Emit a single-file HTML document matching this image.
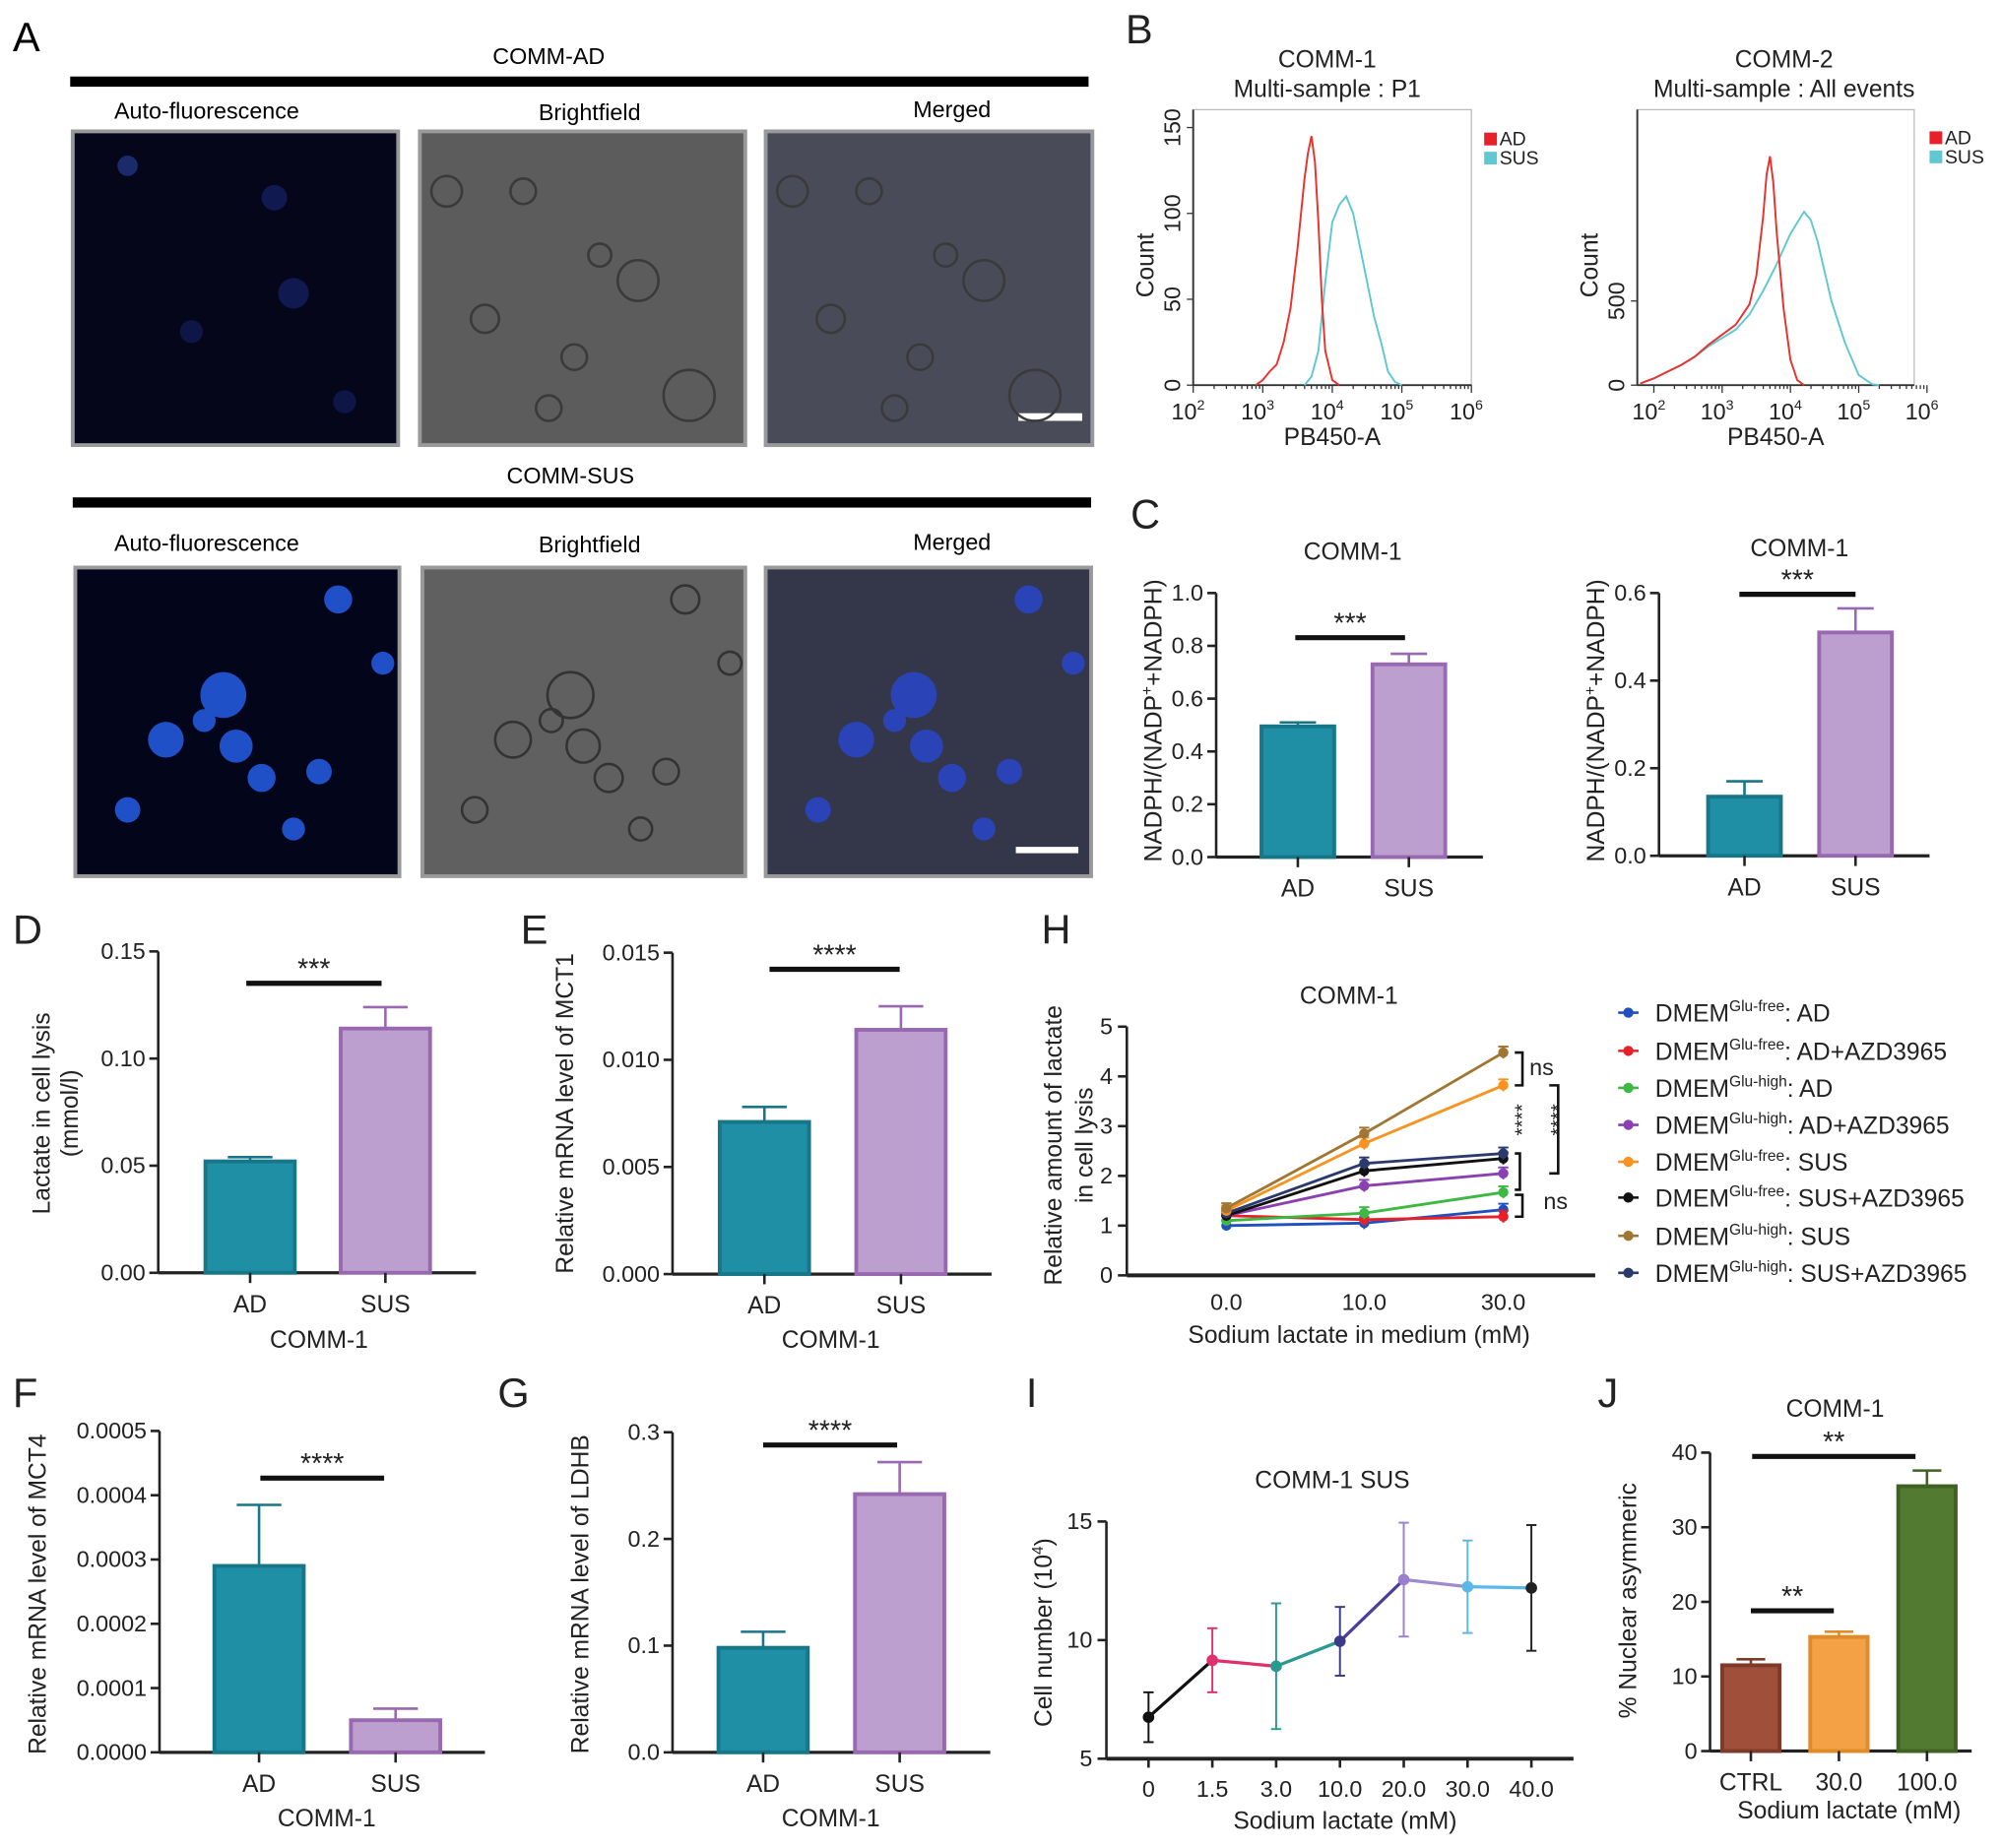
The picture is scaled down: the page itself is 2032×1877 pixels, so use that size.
<!DOCTYPE html>
<html><head><meta charset="utf-8"><style>
html,body{margin:0;padding:0;background:#fff;}
svg{display:block;font-family:"Liberation Sans",Arial,sans-serif;}
</style></head><body>
<svg id="fig" xmlns="http://www.w3.org/2000/svg" width="2032" height="1877" viewBox="0 0 1568 1449" preserveAspectRatio="none">
<g id="panelA">
<text x="10" y="40" font-size="32">A</text>
<text x="430" y="50" font-size="18" text-anchor="middle">COMM-AD</text>
<rect x="55" y="60" width="798" height="8" fill="#000"/>
<text x="162" y="93" font-size="18" text-anchor="middle">Auto-fluorescence</text>
<text x="462" y="94" font-size="18" text-anchor="middle">Brightfield</text>
<text x="746" y="92" font-size="18" text-anchor="middle">Merged</text>
<rect x="57" y="103" width="255" height="246" fill="#05061a" stroke="#999" stroke-width="3"/>
<rect x="329" y="103" width="255" height="246" fill="#5c5c5c" stroke="#999" stroke-width="3"/>
<rect x="600" y="103" width="256" height="246" fill="#4a4b58" stroke="#999" stroke-width="3"/>
<rect x="798" y="324" width="50" height="6" fill="#fff"/>
<text x="447" y="379" font-size="18" text-anchor="middle">COMM-SUS</text>
<rect x="57" y="390" width="798" height="8" fill="#000"/>
<text x="162" y="432" font-size="18" text-anchor="middle">Auto-fluorescence</text>
<text x="462" y="433" font-size="18" text-anchor="middle">Brightfield</text>
<text x="746" y="431" font-size="18" text-anchor="middle">Merged</text>
<rect x="59" y="445" width="254" height="242" fill="#03051a" stroke="#999" stroke-width="3"/>
<rect x="331" y="445" width="253" height="242" fill="#606060" stroke="#999" stroke-width="3"/>
<rect x="600" y="445" width="255" height="242" fill="#34364a" stroke="#999" stroke-width="3"/>
<rect x="796" y="664" width="49" height="5" fill="#fff"/>
<g id="cells"></g>
</g>
<g id="charts"></g>
</svg>
<script>
// ---------- data ----------
const b1AdLogs=[2.9,3.0,3.1,3.2,3.3,3.4,3.5,3.6,3.65,3.7,3.75,3.8,3.85,3.9,4.0,4.1];
const b1AdCounts=[0,3,8,12,25,45,80,120,135,145,130,95,50,20,3,0];
const b1SusLogs=[3.6,3.7,3.8,3.9,4.0,4.1,4.2,4.3,4.4,4.5,4.6,4.7,4.8,4.9,5.0];
const b1SusCounts=[0,5,20,60,95,105,110,100,80,60,40,25,8,2,0];
const b2AdLogs=[1.8,2.0,2.2,2.4,2.6,2.8,3.0,3.2,3.4,3.5,3.6,3.65,3.7,3.75,3.8,3.9,4.0,4.1,4.2];
const b2AdCounts=[10,40,80,120,170,240,300,360,480,650,1000,1250,1360,1200,900,450,150,30,0];
const b2SusLogs=[1.8,2.0,2.2,2.4,2.6,2.8,3.0,3.2,3.4,3.6,3.8,4.0,4.2,4.3,4.4,4.6,4.8,5.0,5.2,5.3];
const b2SusCounts=[10,40,80,120,170,230,280,330,420,560,720,900,1030,980,850,500,250,60,5,0];

const c1Categories=["AD","SUS"]; const c1Values=[0.495,0.73]; const c1Errors=[0.015,0.04]; const c1Ticks=[0,0.2,0.4,0.6,0.8,1.0]; const c1TickLabels=["0.0","0.2","0.4","0.6","0.8","1.0"];
const c2Categories=["AD","SUS"]; const c2Values=[0.135,0.51]; const c2Errors=[0.035,0.055]; const c2Ticks=[0,0.2,0.4,0.6]; const c2TickLabels=["0.0","0.2","0.4","0.6"];
const dCategories=["AD","SUS"]; const dValues=[0.052,0.114]; const dErrors=[0.002,0.01]; const dTicks=[0,0.05,0.1,0.15]; const dTickLabels=["0.00","0.05","0.10","0.15"];
const eCategories=["AD","SUS"]; const eValues=[0.0071,0.0114]; const eErrors=[0.0007,0.0011]; const eTicks=[0,0.005,0.01,0.015]; const eTickLabels=["0.000","0.005","0.010","0.015"];
const fCategories=["AD","SUS"]; const fValues=[0.00029,0.00005]; const fErrors=[0.000095,0.000018]; const fTicks=[0,0.0001,0.0002,0.0003,0.0004,0.0005]; const fTickLabels=["0.0000","0.0001","0.0002","0.0003","0.0004","0.0005"];
const gCategories=["AD","SUS"]; const gValues=[0.098,0.242]; const gErrors=[0.015,0.03]; const gTicks=[0,0.1,0.2,0.3]; const gTickLabels=["0.0","0.1","0.2","0.3"];
const jCategories=["CTRL","30.0","100.0"]; const jValues=[11.5,15.3,35.5]; const jErrors=[0.8,0.7,2.1]; const jTicks=[0,10,20,30,40]; const jTickLabels=["0","10","20","30","40"];

const hX=[0,10,30]; const hXLabels=["0.0","10.0","30.0"];
const hSeriesNames=["Glu-free|AD","Glu-free|AD+AZD3965","Glu-high|AD","Glu-high|AD+AZD3965","Glu-free|SUS","Glu-free|SUS+AZD3965","Glu-high|SUS","Glu-high|SUS+AZD3965"];
const hS1=[1.0,1.05,1.32]; const hS2=[1.2,1.12,1.18]; const hS3=[1.1,1.25,1.67]; const hS4=[1.2,1.8,2.05];
const hS5=[1.3,2.65,3.82]; const hS6=[1.2,2.1,2.35]; const hS7=[1.35,2.85,4.48]; const hS8=[1.25,2.25,2.45];
const hErr=[0.1,0.12,0.12];
const hTicks=[0,1,2,3,4,5];

const iCategories=["0","1.5","3.0","10.0","20.0","30.0","40.0"];
const iValues=[6.75,9.15,8.9,9.95,12.55,12.25,12.2];
const iErrors=[1.05,1.35,2.65,1.45,2.4,1.95,2.65];
const iTicks=[5,10,15];

// ---------- helpers ----------
const NS="http://www.w3.org/2000/svg";
const root=document.getElementById('charts');
function el(tag,attrs,parent,txt){const e=document.createElementNS(NS,tag);for(const k in attrs)e.setAttribute(k,attrs[k]);if(txt!==undefined)e.textContent=txt;(parent||root).appendChild(e);return e;}
function lin(d0,d1,r0,r1){return v=>r0+(v-d0)/(d1-d0)*(r1-r0);}
function txt(x,y,s,size,anchor,parent,rot,name){const t=el('text',{x:x,y:y,'font-size':size,'text-anchor':anchor||'middle',fill:'#222'},parent,s);if(rot)t.setAttribute('transform','rotate(-90 '+x+' '+y+')');


return t;}

// cells decoration
const cg=document.getElementById('cells');
[[100,130,8,'#1a2a6a'],[215,155,10,'#101a50'],[230,230,12,'#101a50'],[150,260,9,'#0e1648'],[270,315,9,'#0e1648']].forEach(c=>{const e=el('circle',{cx:c[0],cy:c[1],r:c[2],fill:c[3]},cg);});
[[350,150,12],[410,150,10],[500,220,16],[540,310,20],[450,280,10],[380,250,11],[430,320,10],[470,200,9]].forEach(c=>{[0,271].forEach(dx=>{const e=el('circle',{cx:c[0]+dx,cy:c[1],r:c[2],fill:'none',stroke:'#3a3a3a','stroke-width':2},cg);});});
[[175,545,18],[130,580,14],[185,585,13],[160,565,9],[205,610,11],[100,635,10],[265,470,11],[300,520,9],[250,605,10],[230,650,9]].forEach(c=>{[[0,'#2050c8'],[541,'#2a44b8']].forEach(o=>{const e=el('circle',{cx:c[0]+o[0],cy:c[1],r:c[2],fill:o[1]},cg);});
const e=el('circle',{cx:c[0]+272,cy:c[1],r:c[2],fill:'none',stroke:'#333','stroke-width':2},cg);});

// ---------- panel B ----------
function histPanel(o){
 const g=el('g',{});
 
 
 const xs=lin(2,6,o.x10_2,o.x10_6), ys=lin(0,o.yTickVal,o.y0,o.yTickPx);
 el('rect',{x:o.ax0,y:o.top,width:o.ax1-o.ax0,height:o.y0-o.top,fill:'none',stroke:'#bbb','stroke-width':1},g);
 el('line',{x1:o.ax0,y1:o.y0,x2:o.ax1,y2:o.y0,stroke:'#333','stroke-width':1.5},g);
 el('line',{x1:o.ax0,y1:o.top,x2:o.ax0,y2:o.y0,stroke:'#333','stroke-width':1.5},g);
 for(let d=2;d<=6;d++){el('line',{x1:xs(d),y1:o.y0,x2:xs(d),y2:o.y0+6,stroke:'#333'},g);
  const t=txt(xs(d)-4,o.y0+27,'10',18,'middle',g,false,'x-tick-label');el('tspan',{dy:-8,'font-size':11},t,String(d));
  if(d<6)for(let m=2;m<10;m++){const xx=xs(d+Math.log10(m));if(xx>=o.ax0)el('line',{x1:xx,y1:o.y0,x2:xx,y2:o.y0+3,stroke:'#333'},g);}}
 o.yTicks.forEach(v=>{const y=ys(v);el('line',{x1:o.ax0-5,y1:y,x2:o.ax0,y2:y,stroke:'#333'},g);txt(o.ax0-10,y,String(v),18,'middle',g,true,'y-tick-label');});
 txt(o.ax0-31,208,'Count',19,'middle',g,true,'y-axis-title');
 txt((o.ax0+o.ax1)/2,349,'PB450-A',19,'middle',g,false,'x-axis-title');
 txt(o.tx,53,o.t1,19,'middle',g,false,'chart-title');
 txt(o.tx,76,o.t2,19,'middle',g,false,'chart-subtitle');
 [[o.susL,o.susC,'#5fc8d0'],[o.adL,o.adC,'#e8322e']].forEach(s=>{
  const p=el('polyline',{points:s[0].map((l,i)=>xs(l).toFixed(1)+','+ys(s[1][i]).toFixed(1)).join(' '),fill:'none',stroke:s[2],'stroke-width':1.5},g);
  
  });
 [['AD','#e8202a',0],['SUS','#5fc8d0',15]].forEach(l=>{el('rect',{x:o.legX,y:o.legY+l[2],width:10,height:10,fill:l[1]},g);txt(o.legX+12,o.legY+l[2]+10,l[0],15,'start',g,false,'legend-entry');});
}
histPanel({name:'panel-b-comm1-histogram',ax0:935,ax1:1153,top:86,y0:302,x10_2:935,x10_6:1153,yTickVal:150,yTickPx:100,yTicks:[0,50,100,150],tx:1040,t1:'COMM-1',t2:'Multi-sample : P1',adL:b1AdLogs,adC:b1AdCounts,susL:b1SusLogs,susC:b1SusCounts,legX:1163,legY:104});
histPanel({name:'panel-b-comm2-histogram',ax0:1283,ax1:1500,top:86,y0:302,x10_2:1296,x10_6:1510,yTickVal:500,yTickPx:236,yTicks:[0,500],tx:1398,t1:'COMM-2',t2:'Multi-sample : All events',adL:b2AdLogs,adC:b2AdCounts,susL:b2SusLogs,susC:b2SusCounts,legX:1512,legY:103});
txt(882,34,'B',32,'start',root,false,'panel-label-b');

// ---------- bar charts ----------
const TEAL=['#1f8fa6','#177688'], PURP=['#bd9fcf','#9868b0'];
function barPanel(o){
 const g=el('g',{});
 
 
 const ys=lin(0,o.vmax,o.y0,o.yTop);
 el('line',{x1:o.ax,y1:ys(o.ticks[o.ticks.length-1]),x2:o.ax,y2:o.y0,stroke:'#222','stroke-width':2},g);
 el('line',{x1:o.ax,y1:o.y0,x2:o.axEnd,y2:o.y0,stroke:'#222','stroke-width':2.5},g);
 o.ticks.forEach((v,i)=>{const y=ys(v);el('line',{x1:o.ax-7,y1:y,x2:o.ax,y2:y,stroke:'#222','stroke-width':2},g);txt(o.ax-10,y+6,o.tickLabels[i],18,'end',g,false,'y-tick-label');});
 o.values.forEach((v,i)=>{const cx=o.c0+i*o.step, c=o.colors[i];
  const r=el('rect',{x:cx-o.bw/2,y:ys(v),width:o.bw,height:o.y0-ys(v),fill:c[0],stroke:c[1],'stroke-width':3},g);
  
  
  const ye=ys(v+o.errors[i]);
  el('line',{x1:cx,y1:ys(v),x2:cx,y2:ye,stroke:c[1],'stroke-width':2},g);
  el('line',{x1:cx-o.bw*0.25,y1:ye,x2:cx+o.bw*0.25,y2:ye,stroke:c[1],'stroke-width':2},g);
  el('line',{x1:cx,y1:o.y0,x2:cx,y2:o.y0+8,stroke:'#222','stroke-width':2},g);
  txt(cx,o.y0+31,o.cats[i],19,'middle',g,false,'x-tick-label');});
 (o.sig||[]).forEach(s=>{const ln=el('line',{x1:s[0],y1:s[2],x2:s[1],y2:s[2],stroke:'#111','stroke-width':4},g);txt((s[0]+s[1])/2,s[2]-4,s[3],22,'middle',g,false,'significance-stars');});
 if(o.title)txt(o.title[0],o.title[1],o.title[2],19,'middle',g,false,'chart-title');
 if(o.xTitle)txt(o.xTitle[0],o.xTitle[1],o.xTitle[2],19,'middle',g,false,'x-axis-title');
 o.yTitle.forEach(t=>{const tt=txt(t[0],o.yMid,'',19,'middle',g,true,'y-axis-title');tt.innerHTML=t[1];});
 txt(o.letter[0],o.letter[1],o.letter[2],32,'start',root,false,'panel-label-'+o.letter[2].toLowerCase());
}
barPanel({name:'panel-c-left',ax:953,axEnd:1162,y0:672,yTop:465,vmax:1.0,ticks:c1Ticks,tickLabels:c1TickLabels,values:c1Values,errors:c1Errors,cats:c1Categories,c0:1017,step:87,bw:57,colors:[TEAL,PURP],sig:[[1015,1101,500,'***']],title:[1060,439,'COMM-1'],yTitle:[[910,'NADPH/(NADP<tspan dy="-7" font-size="12">+</tspan><tspan dy="7">+NADPH)</tspan>']],yMid:565,letter:[886,414,'C']});
barPanel({name:'panel-c-right',ax:1300,axEnd:1512,y0:671,yTop:465,vmax:0.6,ticks:c2Ticks,tickLabels:c2TickLabels,values:c2Values,errors:c2Errors,cats:c2Categories,c0:1367,step:87,bw:57,colors:[TEAL,PURP],sig:[[1363,1454,466,'***']],title:[1410,436,'COMM-1'],yTitle:[[1257,'NADPH/(NADP<tspan dy="-7" font-size="12">+</tspan><tspan dy="7">+NADPH)</tspan>']],yMid:565,letter:[-100,-100,'X']});
barPanel({name:'panel-d',ax:124,axEnd:373,y0:998,yTop:746,vmax:0.15,ticks:dTicks,tickLabels:dTickLabels,values:dValues,errors:dErrors,cats:dCategories,c0:196,step:106,bw:70,colors:[TEAL,PURP],sig:[[193,299,771,'***']],xTitle:[250,1057,'COMM-1'],yTitle:[[39,'Lactate in cell lysis'],[61,'(mmol/l)']],yMid:873,letter:[10,740,'D']});
barPanel({name:'panel-e',ax:527,axEnd:777,y0:999,yTop:747,vmax:0.015,ticks:eTicks,tickLabels:eTickLabels,values:eValues,errors:eErrors,cats:eCategories,c0:599,step:107,bw:70,colors:[TEAL,PURP],sig:[[603,705,760,'****']],xTitle:[651,1057,'COMM-1'],yTitle:[[449,'Relative mRNA level of MCT1']],yMid:873,letter:[408,740,'E']});
barPanel({name:'panel-f',ax:125,axEnd:380,y0:1374,yTop:1122,vmax:0.0005,ticks:fTicks,tickLabels:fTickLabels,values:fValues,errors:fErrors,cats:fCategories,c0:203,step:107,bw:70,colors:[TEAL,PURP],sig:[[204,301,1159,'****']],xTitle:[256,1432,'COMM-1'],yTitle:[[36,'Relative mRNA level of MCT4']],yMid:1250,letter:[10,1103,'F']});
barPanel({name:'panel-g',ax:527,axEnd:776,y0:1374,yTop:1123,vmax:0.3,ticks:gTicks,tickLabels:gTickLabels,values:gValues,errors:gErrors,cats:gCategories,c0:598,step:107,bw:70,colors:[TEAL,PURP],sig:[[598,703,1133,'****']],xTitle:[651,1432,'COMM-1'],yTitle:[[461,'Relative mRNA level of LDHB']],yMid:1250,letter:[390,1103,'G']});
barPanel({name:'panel-j',ax:1340,axEnd:1545,y0:1373,yTop:1139,vmax:40,ticks:jTicks,tickLabels:jTickLabels,values:jValues,errors:jErrors,cats:jCategories,c0:1372,step:69,bw:45,colors:[['#a0503a','#7e3a28'],['#f4a044','#e08a28'],['#527a30','#3f6222']],sig:[[1373,1501,1142,'**'],[1372,1437,1263,'**']],title:[1438,1111,'COMM-1'],xTitle:[1449,1426,'Sodium lactate (mM)'],yTitle:[[1282,'% Nuclear asymmeric']],yMid:1255,letter:[1252,1103,'J']});

// ---------- panel H ----------
(function(){
 const g=el('g',{});
 
 
 const xMap=v=>v===0?961:(v===10?1069:1178);
 const ys=lin(0,5,1000,805);
 el('line',{x1:883,y1:805,x2:883,y2:1000,stroke:'#222','stroke-width':2},g);
 el('line',{x1:883,y1:1000,x2:1250,y2:1000,stroke:'#222','stroke-width':3},g);
 hTicks.forEach(v=>{el('line',{x1:876,y1:ys(v),x2:883,y2:ys(v),stroke:'#222','stroke-width':2},g);txt(872,ys(v)+6,String(v),18,'end',g,false,'y-tick-label');});
 hX.forEach((v,i)=>txt(xMap(v),1027,hXLabels[i],18,'middle',g,false,'x-tick-label'));
 txt(1057,787,'COMM-1',19,'middle',g,false,'chart-title');
 txt(1065,1053,'Sodium lactate in medium (mM)',19,'middle',g,false,'x-axis-title');
 txt(832,898,'Relative amount of lactate',19,'middle',g,true,'y-axis-title');
 txt(856,898,'in cell lysis',19,'middle',g,true,'y-axis-title');
 const series=[hS1,hS2,hS3,hS4,hS5,hS6,hS7,hS8];
 const colors=['#1f50c0','#e8202a','#3cb843','#8a40b0','#f7931e','#111111','#a07632','#2a3a6e'];
 const drawOrder=[0,1,2,3,5,7,4,6];
 drawOrder.forEach(k=>{const s=series[k],c=colors[k];
  const p=el('polyline',{points:s.map((v,i)=>xMap(hX[i])+','+ys(v)).join(' '),fill:'none',stroke:c,'stroke-width':2.2},g);
  
  
  s.forEach((v,i)=>{const x=xMap(hX[i]);el('line',{x1:x,y1:ys(v-hErr[i]),x2:x,y2:ys(v+hErr[i]),stroke:c,'stroke-width':1.5},g);el('line',{x1:x-4,y1:ys(v+hErr[i]),x2:x+4,y2:ys(v+hErr[i]),stroke:c,'stroke-width':1.5},g);
   const m=el('circle',{cx:x,cy:ys(v),r:4,fill:c},g);});});
 const br=(x,y1,y2,w)=>el('path',{d:`M${x} ${ys(y1)} h${w} V${ys(y2)} h${-w}`,fill:'none',stroke:'#111','stroke-width':2},g);
 br(1187,hS7[2],hS5[2],6); txt(1208,843,'ns',18,'middle',g,false,'significance-label');
 br(1214,hS5[2],hS4[2],7); txt(1226,878,'****',16,'middle',g,true,'significance-stars');
 br(1187,hS8[2],hS3[2]+0.05,4); txt(1198,878,'****',16,'middle',g,true,'significance-stars');
 br(1187,hS3[2]-0.05,hS2[2],6); txt(1219,948,'ns',18,'middle',g,false,'significance-label');
 const ly=[794,824,853,882,911,939,969,998];
 hSeriesNames.forEach((n,i)=>{const parts=n.split('|');const y=ly[i];
  el('line',{x1:1268,y1:y,x2:1284,y2:y,stroke:colors[i],'stroke-width':2},g);
  el('circle',{cx:1276,cy:y,r:4,fill:colors[i]},g);
  const t=txt(1297,y+7,'',19,'start',g,false,'legend-entry');
  el('tspan',{},t,'DMEM');el('tspan',{dy:-8,'font-size':12},t,parts[0]);el('tspan',{dy:8},t,': '+parts[1]);});
 txt(816,740,'H',32,'start',root,false,'panel-label-h');
})();

// ---------- panel I ----------
(function(){
 const g=el('g',{});
 
 
 const xs=i=>900+i*50; const ys=lin(5,15,1379,1193);
 el('line',{x1:867,y1:1193,x2:867,y2:1379,stroke:'#222','stroke-width':2},g);
 el('line',{x1:867,y1:1379,x2:1233,y2:1379,stroke:'#222','stroke-width':3},g);
 iTicks.forEach(v=>{el('line',{x1:860,y1:ys(v),x2:867,y2:ys(v),stroke:'#222','stroke-width':2},g);txt(856,ys(v)+6,String(v),18,'end',g,false,'y-tick-label');});
 iCategories.forEach((c,i)=>{el('line',{x1:xs(i),y1:1379,x2:xs(i),y2:1386,stroke:'#222','stroke-width':2},g);txt(xs(i),1409,c,18,'middle',g,false,'x-tick-label');});
 txt(1044,1167,'COMM-1 SUS',19,'middle',g,false,'chart-title');
 txt(1054,1434,'Sodium lactate (mM)',19,'middle',g,false,'x-axis-title');
 const yt=txt(824,1280,'',19,'middle',g,true,'y-axis-title');yt.innerHTML='Cell number (10<tspan dy="-7" font-size="12">4</tspan><tspan dy="7">)</tspan>';
 const ptc=['#111','#e0306a','#2a9a90','#3a3a8a','#9a7fcf','#5ab8e8','#222'];
 const segc=['#111','#e0306a','#2a9a90','#4a3f9a','#a08ad0','#5ab8e8'];
 for(let i=0;i<iValues.length-1;i++){const l=el('line',{x1:xs(i),y1:ys(iValues[i]),x2:xs(i+1),y2:ys(iValues[i+1]),stroke:segc[i],'stroke-width':2.5},g);}
 iValues.forEach((v,i)=>{const x=xs(i),c=ptc[i];
  el('line',{x1:x,y1:ys(v-iErrors[i]),x2:x,y2:ys(v+iErrors[i]),stroke:c,'stroke-width':1.5},g);
  [v-iErrors[i],v+iErrors[i]].forEach(e=>el('line',{x1:x-4,y1:ys(e),x2:x+4,y2:ys(e),stroke:c,'stroke-width':1.5},g));
  const m=el('circle',{cx:x,cy:ys(v),r:4.5,fill:c},g);});
 txt(804,1103,'I',32,'start',root,false,'panel-label-i');
})();
</script>
</body></html>
